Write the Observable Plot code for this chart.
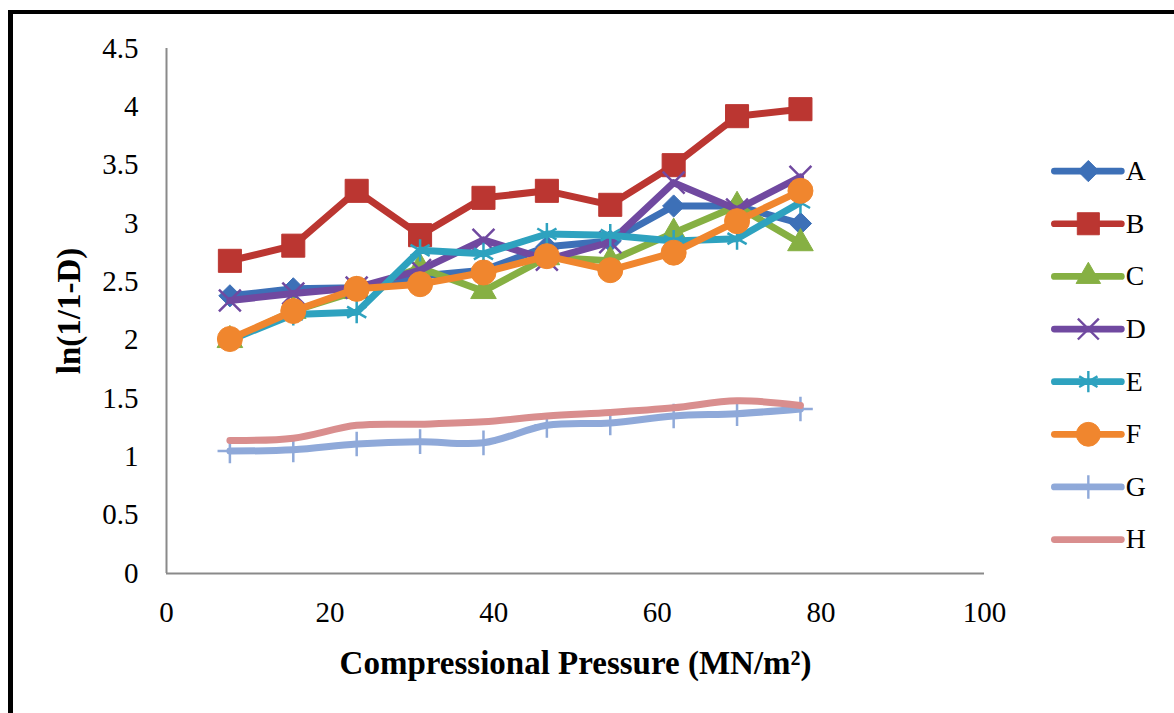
<!DOCTYPE html>
<html><head><meta charset="utf-8">
<script src="https://cdn.jsdelivr.net/npm/d3@7"></script>
<script src="https://cdn.jsdelivr.net/npm/@observablehq/plot@0.6"></script>
<style>
html,body{margin:0;padding:0;background:#fff;}
#wrap{position:relative;width:1174px;height:713px;overflow:hidden;background:#fff;}
#frame{position:absolute;left:8px;top:10px;width:1250px;height:800px;border-top:4px solid #000;border-left:5px solid #000;box-sizing:border-box;}
#chart{position:absolute;left:0;top:0;}
#legend{position:absolute;left:1040px;top:140px;}
svg text{font-family:"Liberation Serif","Times New Roman",serif;}
g[aria-label="y-axis label"] text, g[aria-label="x-axis label"] text{font-weight:bold;font-size:33px;}
</style></head><body>
<div id="wrap"><div id="frame"></div><div id="chart"></div><div id="legend"></div></div>
<script>
// ---- data ----
const pressure = [7.75, 15.5, 23.25, 31, 38.75, 46.5, 54.25, 62, 69.75, 77.5];
const seriesNames = ["A", "B", "C", "D", "E", "F", "G", "H"];
const seriesA = [2.38, 2.44, 2.45, 2.55, 2.60, 2.80, 2.85, 3.15, 3.15, 3.00];
const seriesB = [2.68, 2.81, 3.28, 2.90, 3.22, 3.28, 3.16, 3.50, 3.92, 3.98];
const seriesC = [2.00, 2.25, 2.42, 2.62, 2.42, 2.71, 2.68, 2.92, 3.15, 2.83];
const seriesD = [2.34, 2.40, 2.45, 2.60, 2.86, 2.69, 2.84, 3.35, 3.12, 3.40];
const seriesE = [2.00, 2.22, 2.24, 2.77, 2.74, 2.91, 2.90, 2.85, 2.87, 3.18];
const seriesF = [2.01, 2.25, 2.44, 2.48, 2.58, 2.72, 2.60, 2.75, 3.02, 3.28];
const seriesG = [1.05, 1.06, 1.11, 1.13, 1.12, 1.27, 1.29, 1.35, 1.37, 1.41];
const seriesH = [1.14, 1.16, 1.27, 1.28, 1.30, 1.35, 1.38, 1.42, 1.48, 1.44];
const yTicks = [0, 0.5, 1, 1.5, 2, 2.5, 3, 3.5, 4, 4.5];
const xTicks = [0, 20, 40, 60, 80, 100];

// ---- styles ----
const values = [seriesA, seriesB, seriesC, seriesD, seriesE, seriesF, seriesG, seriesH];
const colors = ["#3D70B7", "#BB3631", "#86B043", "#7049A0", "#2EA2BF", "#F0862E", "#8FA9D9", "#D98E8E"];
const symbols = ["diamond2", "square", "triangle", "times", "asterisk", "circle", "plus", null];
const filled = [true, true, true, false, false, true, false, false];
const radii = [10, 13, 9.5, 10, 10.5, 12.5, 8, 0];
const curves = ["linear", "linear", "linear", "linear", "linear", "linear", "catmull-rom", "catmull-rom"];

const rows = seriesNames.map((s, i) => pressure.map((x, j) => ({series: s, x, y: values[i][j]})));

function markerFor(data, i, opts) {
  if (!symbols[i]) return null;
  return filled[i]
    ? Plot.dot(data, {...opts, symbol: symbols[i], r: radii[i], fill: colors[i], stroke: colors[i], strokeWidth: 1})
    : Plot.dot(data, {...opts, symbol: symbols[i], r: radii[i], fill: "none", stroke: colors[i], strokeWidth: 2.5});
}

const seriesMarks = [];
seriesNames.forEach((s, i) => {
  seriesMarks.push(Plot.line(rows[i], {x: "x", y: "y", stroke: colors[i], strokeWidth: 7, curve: curves[i], strokeLinejoin: "round", strokeLinecap: "round"}));
  const m = markerFor(rows[i], i, {x: "x", y: "y"});
  if (m) seriesMarks.push(m);
});

const chart = Plot.plot({
  width: 1174, height: 713,
  marginLeft: 166, marginRight: 190, marginTop: 48, marginBottom: 140,
  x: {domain: [0, 100]},
  y: {domain: [0, 4.5]},
  style: {background: "transparent", fontFamily: "Liberation Serif", color: "#000", overflow: "visible"},
  marks: [
    Plot.axisY({ticks: yTicks, tickSize: 0, tickPadding: 28, fontSize: 29, tickFormat: d => String(d),
      label: "ln(1/1-D)", labelAnchor: "center", labelOffset: 110, labelArrow: "none"}),
    Plot.axisX({ticks: xTicks, tickSize: 0, tickPadding: 28, fontSize: 29, tickFormat: d => String(d),
      label: "Compressional Pressure (MN/m²)", labelAnchor: "center", labelOffset: 100, labelArrow: "none"}),
    Plot.ruleX([0], {y1: 0, y2: 4.5, stroke: "#8a8a8a", strokeWidth: 2}),
    Plot.ruleY([0], {x1: 0, x2: 100, stroke: "#8a8a8a", strokeWidth: 2}),
    ...seriesMarks
  ]
});
document.getElementById("chart").appendChild(chart);

// ---- legend ----
const legendMarks = [];
seriesNames.forEach((s, i) => {
  legendMarks.push(Plot.ruleY([s], {x1: 0, x2: 1, stroke: colors[i], strokeWidth: 7, strokeLinecap: "round"}));
  const m = markerFor([s], i, {x: [0.5], y: d => d});
  if (m) legendMarks.push(m);
});
legendMarks.push(Plot.text(seriesNames, {x: 1, y: d => d, text: d => d, textAnchor: "start", dx: 4, fontSize: 29, fill: "#000"}));
const legend = Plot.plot({
  width: 140, height: 445,
  marginTop: 32, marginBottom: 28, marginLeft: 15, marginRight: 55,
  x: {domain: [0, 1], axis: null},
  y: {domain: seriesNames, type: "point", padding: 0, axis: null},
  style: {background: "transparent", fontFamily: "Liberation Serif", color: "#000", overflow: "visible"},
  marks: legendMarks
});
document.getElementById("legend").appendChild(legend);
</script>
</body></html>
